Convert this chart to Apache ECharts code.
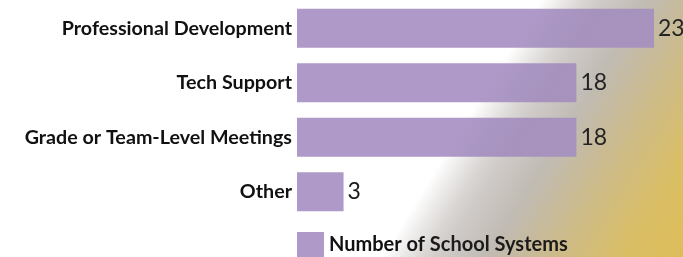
<!DOCTYPE html>
<html>
<head>
<meta charset="utf-8">
<script src="https://cdn.jsdelivr.net/npm/echarts@6/dist/echarts.min.js"></script>
<style>
	html, body { margin: 0; padding: 0; background: #fff; }
	#main { width: 683px; height: 257px; }
</style>
</head>
<body>
<div id="main"></div>
<script>
// chart data
const categories = ['Professional Development', 'Tech Support', 'Grade or Team-Level Meetings', 'Other'];
const schoolSystems = [23, 18, 18, 3];
const seriesName = 'Number of School Systems';

const myChart = echarts.init(document.getElementById('main'));

// diagonal glow from the bottom right corner
const glow = {
	type: 'linear',
	global: true,
	x: 390,
	y: 243,
	x2: 607,
	y2: 378,
	colorStops: [
		{ offset: 0, color: '#ffffff' },
		{ offset: 0.14, color: '#e3e0dd' },
		{ offset: 0.35, color: '#cbc6bd' },
		{ offset: 0.58, color: '#d8c58c' },
		{ offset: 0.8, color: '#e6c866' },
		{ offset: 1, color: '#e9c65a' }
	]
};

const option = {
	animation: false,
	backgroundColor: glow,
	graphic: [
		{
			type: 'rect',
			silent: true,
			z: 100,
			shape: { x: 0, y: 0, width: 683, height: 257 },
			style: {
				fill: {
					type: 'linear',
					global: true,
					x: 390,
					y: 243,
					x2: 607,
					y2: 378,
					colorStops: [
						{ offset: 0, color: 'rgba(110,100,110,0)' },
						{ offset: 0.2, color: 'rgba(110,100,110,0.12)' },
						{ offset: 1, color: 'rgba(120,110,90,0.1)' }
					]
				}
			}
		}
	],
	grid: {
		left: 297,
		top: 1,
		width: 372.5,
		height: 218
	},
	legend: {
		left: 297,
		top: 232,
		padding: 0,
		itemWidth: 27,
		itemHeight: 25,
		itemGap: 8,
		icon: 'rect',
		textStyle: {
			fontFamily: 'Lato',
			fontWeight: 'bold',
			fontSize: 20,
			color: '#111'
		},
		data: [seriesName]
	},
	xAxis: {
		type: 'value',
		min: 0,
		max: 24,
		show: false
	},
	yAxis: {
		type: 'category',
		inverse: true,
		data: categories,
		axisLine: { show: false },
		axisTick: { show: false },
		axisLabel: {
			margin: 5,
			fontFamily: 'Lato',
			fontWeight: 'bold',
			fontSize: 19.7,
			color: '#111'
		}
	},
	series: [
		{
			name: seriesName,
			type: 'bar',
			data: schoolSystems,
			barWidth: 39,
			itemStyle: { color: '#ae99c8' },
			label: {
				show: true,
				position: 'right',
				distance: 4,
				fontFamily: 'Lato',
				fontSize: 23,
				color: '#1a1a1a'
			}
		}
	]
};

myChart.setOption(option);

window.addEventListener('resize', function () {
	myChart.resize();
});
</script>
</body>
</html>
